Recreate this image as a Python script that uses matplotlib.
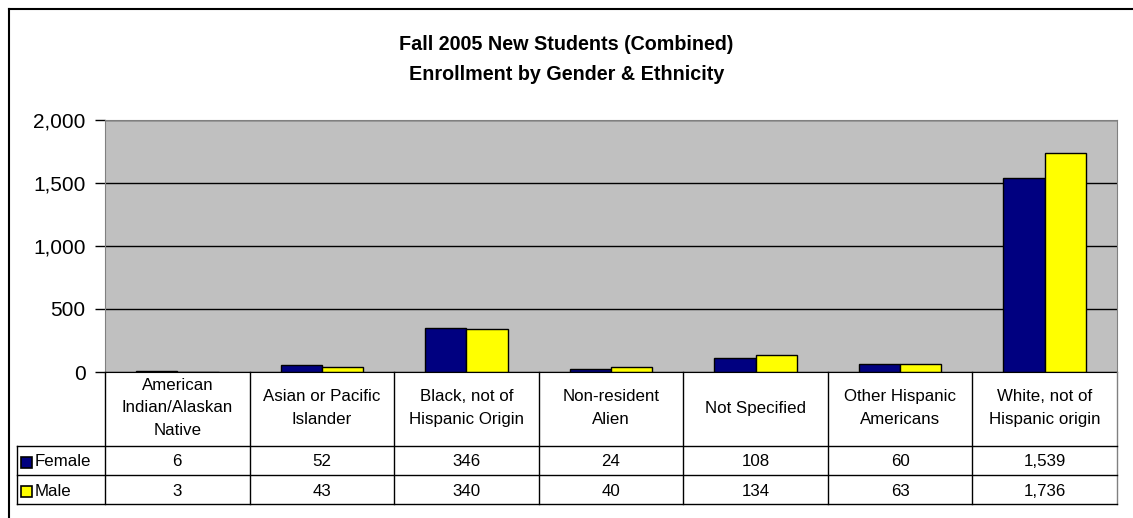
import matplotlib
matplotlib.use("Agg")
import numpy as np
import matplotlib.pyplot as plt
from matplotlib.lines import Line2D
from matplotlib.patches import Rectangle
from matplotlib.transforms import blended_transform_factory
from matplotlib.ticker import FuncFormatter

categories = ["American\nIndian/Alaskan\nNative", "Asian or Pacific\nIslander",
              "Black, not of\nHispanic Origin", "Non-resident\nAlien", "Not Specified",
              "Other Hispanic\nAmericans", "White, not of\nHispanic origin"]
series_names = ["Female", "Male"]
female = [6, 52, 346, 24, 108, 60, 1539]
male = [3, 43, 340, 40, 134, 63, 1736]
series_colors = ["#000080", "#FFFF00"]
yticks = [0, 500, 1000, 1500, 2000]

plt.rcParams['font.family'] = ['Liberation Sans', 'DejaVu Sans']

W, H = 1133, 518
fig = plt.figure(figsize=(W / 100, H / 100), dpi=100)

def fy(y):
    # pixel row from top -> figure fraction
    return 1 - y / H

def fx(x):
    return x / W

# plot area
left, right, top, bottom = 105, 1117, 120, 372
ax = fig.add_axes([fx(left), fy(bottom), fx(right - left), (bottom - top) / H])
ax.set_facecolor("#C0C0C0")

x = np.arange(len(categories))
bw = 1 / 3.5
ax.bar(x - bw / 2, female, bw, color=series_colors[0], edgecolor="black", linewidth=1, zorder=3)
ax.bar(x + bw / 2, male, bw, color=series_colors[1], edgecolor="black", linewidth=1, zorder=3)

ax.set_xlim(-0.5, len(categories) - 0.5)
ax.set_ylim(0, 2000)
ax.set_yticks(yticks)
ax.yaxis.set_major_formatter(FuncFormatter(lambda v, p: f"{int(v):,}"))
ax.tick_params(axis="y", labelsize=15, length=7, width=1, color="black", pad=7)
ax.set_xticks([])
ax.grid(axis="y", color="black", linewidth=1, zorder=1)
for s in ["left", "right", "top"]:
    ax.spines[s].set_color("#808080")
ax.spines["bottom"].set_color("black")
ax.spines["bottom"].set_zorder(4)

# data table below the plot
tr = blended_transform_factory(ax.transData, fig.transFigure)
row_lines = [446, 475, 504]
for i in range(len(categories) + 1):
    xb = i - 0.5
    col = "#808080" if i == len(categories) else "black"
    fig.add_artist(Line2D([xb, xb], [fy(bottom), fy(504)], transform=tr, color=col, lw=1))
for yl in row_lines:
    fig.add_artist(Line2D([fx(17), fx(right)], [fy(yl), fy(yl)], color="black", lw=1))
fig.add_artist(Line2D([fx(17), fx(17)], [fy(446), fy(504)], color="black", lw=1))

fs = 12.2
for i, cat in enumerate(categories):
    fig.text(i, fy(408), cat, transform=tr, ha="center", va="center", fontsize=fs, linespacing=1.6)
    fig.text(i, fy(462), f"{female[i]:,}", transform=tr, ha="center", va="center", fontsize=fs)
    fig.text(i, fy(491), f"{male[i]:,}", transform=tr, ha="center", va="center", fontsize=fs)

for name, col, yc in zip(series_names, series_colors, [462, 491]):
    fig.add_artist(Rectangle((fx(21), fy(yc + 5.5)), 11 / W, 11 / H, facecolor=col,
                             edgecolor="black", lw=1.2, transform=fig.transFigure))
    fig.text(fx(35), fy(yc), name, ha="left", va="center", fontsize=fs)

# title
fig.text(0.5, fy(45), "Fall 2005 New Students (Combined)", ha="center", va="center",
         fontsize=14.2, fontweight="bold")
fig.text(0.5, fy(75), "Enrollment by Gender & Ethnicity", ha="center", va="center",
         fontsize=14.2, fontweight="bold")

# chart frame
fig.add_artist(Line2D([fx(9), 1], [fy(9), fy(9)], color="black", lw=1.5))
fig.add_artist(Line2D([fx(9), fx(9)], [fy(9), 0], color="black", lw=1.5))

fig.savefig("out.png", dpi=100)
